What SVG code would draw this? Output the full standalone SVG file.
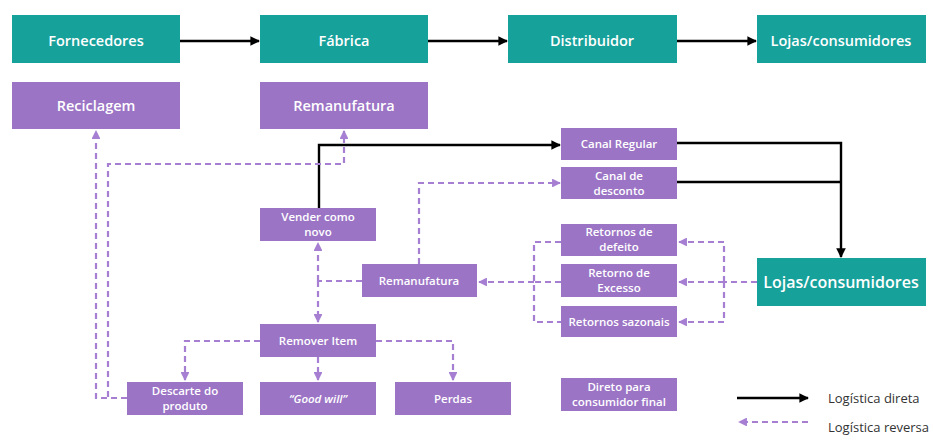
<svg xmlns="http://www.w3.org/2000/svg" width="933" height="440" viewBox="0 0 933 440">
<defs>
<marker id="ab" viewBox="0 0 10 10" refX="9" refY="5" markerWidth="4" markerHeight="4" orient="auto" markerUnits="strokeWidth"><path d="M0,0 L10,5 L0,10 z" fill="#000"/></marker>
<marker id="ap" viewBox="0 0 10 10" refX="9" refY="5" markerWidth="4" markerHeight="4" orient="auto" markerUnits="strokeWidth"><path d="M0,0 L10,5 L0,10 z" fill="#a67fd2"/></marker>
<style>
.t rect{fill:#17a19b}
.p rect{fill:#9b74c5}
text{font-family:"Open Sans","Noto Sans",sans-serif;fill:#fff;text-anchor:middle;font-weight:600}
.t text{font-size:14.5px}
.big text{font-size:14.5px}
.s text{font-size:11.5px}
#lojas2 text{font-size:16px}
.d{fill:none;stroke:#000;stroke-width:2.4;marker-end:url(#ab)}
.dn{fill:none;stroke:#000;stroke-width:2.4}
.r{fill:none;stroke:#a67fd2;stroke-width:2.2;stroke-dasharray:6 4;marker-end:url(#ap)}
.rn{fill:none;stroke:#a67fd2;stroke-width:2.2;stroke-dasharray:6 4}
.lg{fill:#333;text-anchor:start;font-weight:400;font-size:13px}
</style>
</defs>
<rect width="933" height="440" fill="#fff"/>
<g id="connectors">
<path class="d" d="M180,41 H259"/>
<path class="d" d="M428,41 H507"/>
<path class="d" d="M677,41 H756"/>
<path class="d" d="M319,208 V145 H560"/>
<path class="d" d="M677,143 H841 V257"/>
<path class="dn" d="M677,182 H841"/>
<path class="r" d="M127,398 H96 V131"/>
<path class="r" d="M127,398 H108 V164 H344 V131"/>
<path class="r" d="M419,264 V183 H560"/>
<path class="rn" d="M362,281 H318"/>
<path class="r" d="M318,281 V243"/>
<path class="r" d="M318,281 V322"/>
<path class="r" d="M260,341 H185 V380"/>
<path class="r" d="M318,357 V380"/>
<path class="r" d="M376,341 H453 V380"/>
<path class="rn" d="M757,282 H724"/>
<path class="r" d="M724,282 H679"/>
<path class="r" d="M724,282 V242 H679"/>
<path class="r" d="M724,282 V322 H679"/>
<path class="rn" d="M561,242 H534 V322 H561"/>
<path class="rn" d="M561,282 H534"/>
<path class="r" d="M534,282 H479"/>
<path class="d" d="M737,398 H808"/>
<path class="r" d="M808,422 H739"/>
</g>
<g id="fornecedores" class="t big"><rect x="12" y="15" width="168" height="48"/><text x="96" y="46">Fornecedores</text></g>
<g id="fabrica" class="t big"><rect x="260" y="15" width="168" height="48"/><text x="344" y="46">Fábrica</text></g>
<g id="distribuidor" class="t big"><rect x="508" y="15" width="169" height="48"/><text x="592" y="46">Distribuidor</text></g>
<g id="lojas1" class="t big"><rect x="757" y="15" width="169" height="48"/><text x="841" y="46">Lojas/consumidores</text></g>
<g id="reciclagem" class="p big"><rect x="12" y="82" width="168" height="47"/><text x="96" y="111">Reciclagem</text></g>
<g id="remanufatura1" class="p big"><rect x="260" y="82" width="168" height="47"/><text x="344" y="111">Remanufatura</text></g>
<g id="canal-regular" class="p s"><rect x="561" y="128" width="116" height="32"/><text x="619" y="148">Canal Regular</text></g>
<g id="canal-desconto" class="p s"><rect x="561" y="167" width="116" height="32"/><text x="619" y="180">Canal de</text><text x="619" y="195">desconto</text></g>
<g id="vender" class="p s"><rect x="260" y="208" width="116" height="33"/><text x="318" y="221">Vender como</text><text x="318" y="236">novo</text></g>
<g id="remanufatura2" class="p s"><rect x="362" y="264" width="115" height="33"/><text x="419" y="285">Remanufatura</text></g>
<g id="ret-defeito" class="p s"><rect x="561" y="224" width="116" height="32"/><text x="619" y="236">Retornos de</text><text x="619" y="251">defeito</text></g>
<g id="ret-excesso" class="p s"><rect x="561" y="264" width="116" height="33"/><text x="619" y="277">Retorno de</text><text x="619" y="292">Excesso</text></g>
<g id="ret-sazonais" class="p s"><rect x="561" y="306" width="116" height="31"/><text x="619" y="326">Retornos sazonais</text></g>
<g id="lojas2" class="t"><rect x="757" y="258" width="169" height="48"/><text x="841" y="288">Lojas/consumidores</text></g>
<g id="remover" class="p s"><rect x="260" y="324" width="116" height="33"/><text x="318" y="345">Remover Item</text></g>
<g id="descarte" class="p s"><rect x="127" y="382" width="116" height="33"/><text x="185" y="395">Descarte do</text><text x="185" y="410">produto</text></g>
<g id="goodwill" class="p s"><rect x="260" y="382" width="116" height="33"/><text x="318" y="403" font-style="italic">“Good will”</text></g>
<g id="perdas" class="p s"><rect x="395" y="382" width="116" height="33"/><text x="453" y="403">Perdas</text></g>
<g id="direto" class="p s"><rect x="561" y="378" width="116" height="33"/><text x="619" y="391">Direto para</text><text x="619" y="406">consumidor final</text></g>
<g id="legend"><text class="lg" x="828" y="403">Logística direta</text><text class="lg" x="828" y="432">Logística reversa</text></g>
</svg>
